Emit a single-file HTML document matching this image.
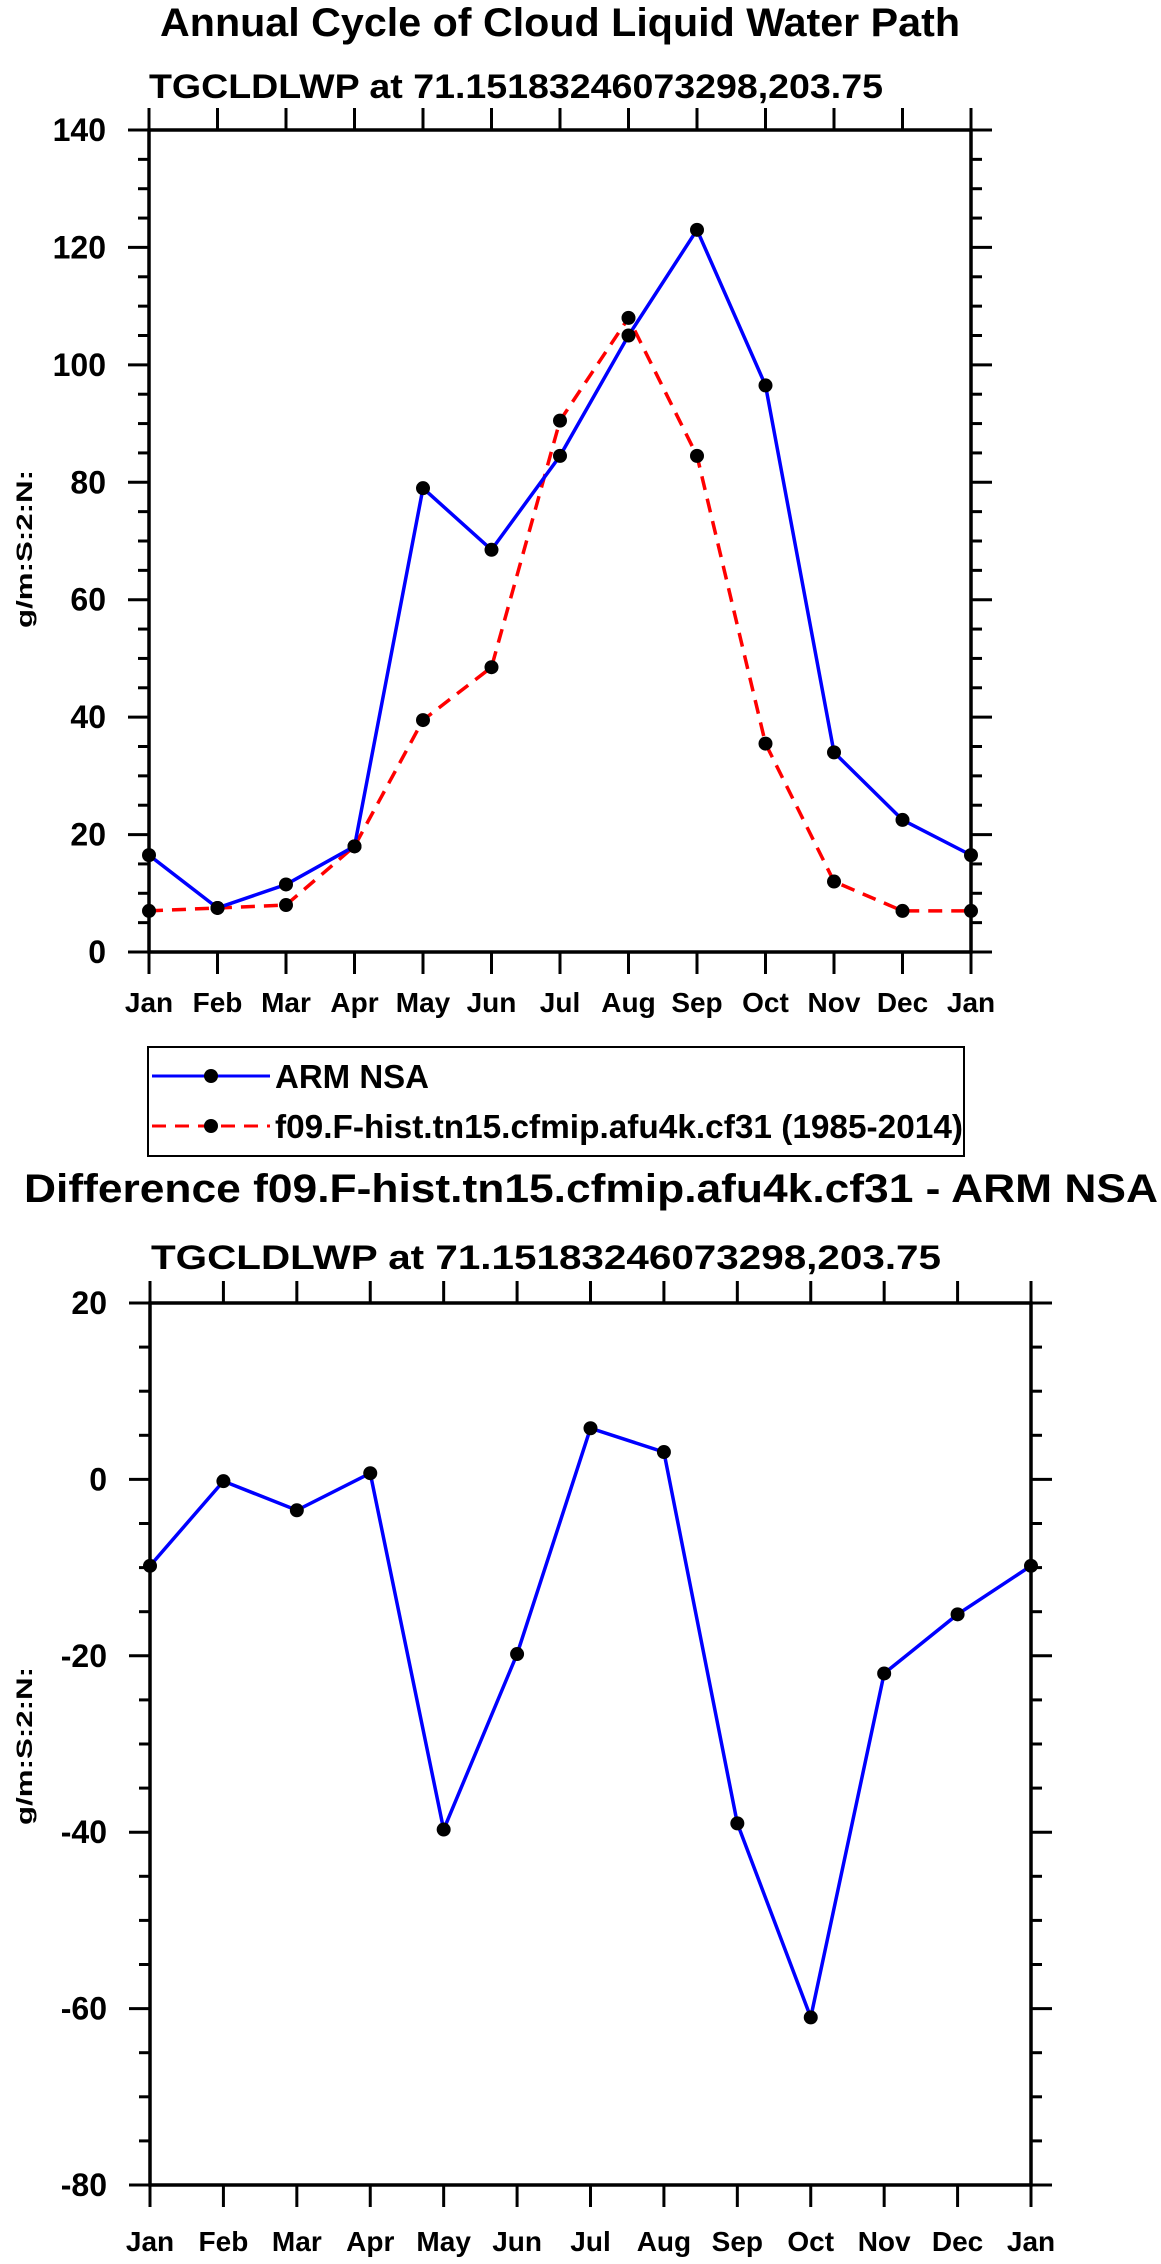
<!DOCTYPE html>
<html><head><meta charset="utf-8"><style>
html,body{margin:0;padding:0;background:#fff;}
svg{display:block;font-family:"Liberation Sans",sans-serif;font-weight:bold;}
</style></head><body>
<svg id="s" width="1161" height="2264" viewBox="0 0 1161 2264" xmlns="http://www.w3.org/2000/svg">
<text x="160" y="36" font-size="40" textLength="800" lengthAdjust="spacingAndGlyphs">Annual Cycle of Cloud Liquid Water Path</text>
<text x="149" y="98" font-size="34" textLength="734" lengthAdjust="spacingAndGlyphs">TGCLDLWP at 71.15183246073298,203.75</text>
<text transform="translate(32,549) rotate(-90)" text-anchor="middle" font-size="22" textLength="158" lengthAdjust="spacingAndGlyphs">g/m:S:2:N:</text>
<g id="top"></g>
<g>
<rect x="148" y="1047" width="816" height="109" fill="none" stroke="#000" stroke-width="2"/>
<g>
<line x1="152" y1="1076" x2="270" y2="1076" stroke="#00f" stroke-width="3"/>
<circle cx="211" cy="1076" r="7"/>
<text x="275" y="1088" font-size="33">ARM NSA</text></g>
<g>
<line x1="152" y1="1126" x2="270" y2="1126" stroke="#f00" stroke-width="3" stroke-dasharray="14,9"/>
<circle cx="211" cy="1126" r="7"/>
<text x="275" y="1138" font-size="33" textLength="688" lengthAdjust="spacingAndGlyphs">f09.F-hist.tn15.cfmip.afu4k.cf31 (1985-2014)</text></g>
</g>
<text x="24" y="1202" font-size="40" textLength="1134" lengthAdjust="spacingAndGlyphs">Difference f09.F-hist.tn15.cfmip.afu4k.cf31 - ARM NSA</text>
<text x="151" y="1269" font-size="34" textLength="790" lengthAdjust="spacingAndGlyphs">TGCLDLWP at 71.15183246073298,203.75</text>
<text transform="translate(32,1746) rotate(-90)" text-anchor="middle" font-size="22" textLength="158" lengthAdjust="spacingAndGlyphs">g/m:S:2:N:</text>
<g id="bot"></g>
</svg>
<script>
const months = ["Jan","Feb","Mar","Apr","May","Jun","Jul","Aug","Sep","Oct","Nov","Dec","Jan"];
const armNsa = [16.5,7.5,11.5,18,79,68.5,84.5,105,123,96.5,34,22.5,16.5];
const model = [7,7.5,8,18,39.5,48.5,90.5,108,84.5,35.5,12,7,7];
const diff = [-9.8,-0.2,-3.5,0.7,-39.7,-19.8,5.8,3.1,-39,-61,-22,-15.3,-9.8];
const topTicks = [0,20,40,60,80,100,120,140];
const botTicks = [-80,-60,-40,-20,0,20];
const NS="http://www.w3.org/2000/svg";
function mk(p,t,a){const e=document.createElementNS(NS,t);for(const k in a)e.setAttribute(k,a[k]);p.appendChild(e);return e;}
function chart(g,L,R,T,B,ymin,ymax,ticks,series,lblBase,pre){
  const xs=i=>L+(R-L)*i/(months.length-1);
  const ys=v=>B-(B-T)*(v-ymin)/(ymax-ymin);
  for(let v=ymin;v<=ymax;v+=5){const y=ys(v);const maj=ticks.includes(v);const len=maj?21:11;
    let l=mk(g,'line',{x1:L-len,y1:y,x2:L,y2:y,stroke:'#000','stroke-width':3});
    
    
    let r=mk(g,'line',{x1:R,y1:y,x2:R+len,y2:y,stroke:'#000','stroke-width':3});
    
    
  }
  ticks.forEach(v=>{const t=mk(g,'text',{x:L-43,y:ys(v)+11,'text-anchor':'end','font-size':32});t.textContent=v;
    
    });
  months.forEach((m,i)=>{const x=xs(i);
    let a=mk(g,'line',{x1:x,y1:B,x2:x,y2:B+22,stroke:'#000','stroke-width':3});
    
    
    let b=mk(g,'line',{x1:x,y1:T-22,x2:x,y2:T,stroke:'#000','stroke-width':3});
    
    
    const t=mk(g,'text',{x:x,y:lblBase,'text-anchor':'middle','font-size':28});t.textContent=m;
    
    });
  const fr=mk(g,'rect',{x:L,y:T,width:R-L,height:B-T,fill:'none',stroke:'#000','stroke-width':3.5});
  
  
  series.forEach(s=>{
    const pl=mk(g,'polyline',{points:s.v.map((v,i)=>xs(i)+','+ys(v)).join(' '),fill:'none',stroke:s.c,'stroke-width':3.5,'stroke-dasharray':s.d||'none'});
    
    
    s.v.forEach((v,i)=>{const c=mk(g,'circle',{cx:xs(i),cy:ys(v),r:7,fill:'#000'});
      
      });
  });
}
chart(document.getElementById('top'),149,971,130,952,0,140,topTicks,
  [{v:model,c:'#f00',d:'14,9',n:'model'},{v:armNsa,c:'#00f',n:'arm-nsa'}],1012,'top');
chart(document.getElementById('bot'),150,1031,1303,2185,-80,20,botTicks,
  [{v:diff,c:'#00f',n:'difference'}],2251,'bottom');
</script>
</body></html>
